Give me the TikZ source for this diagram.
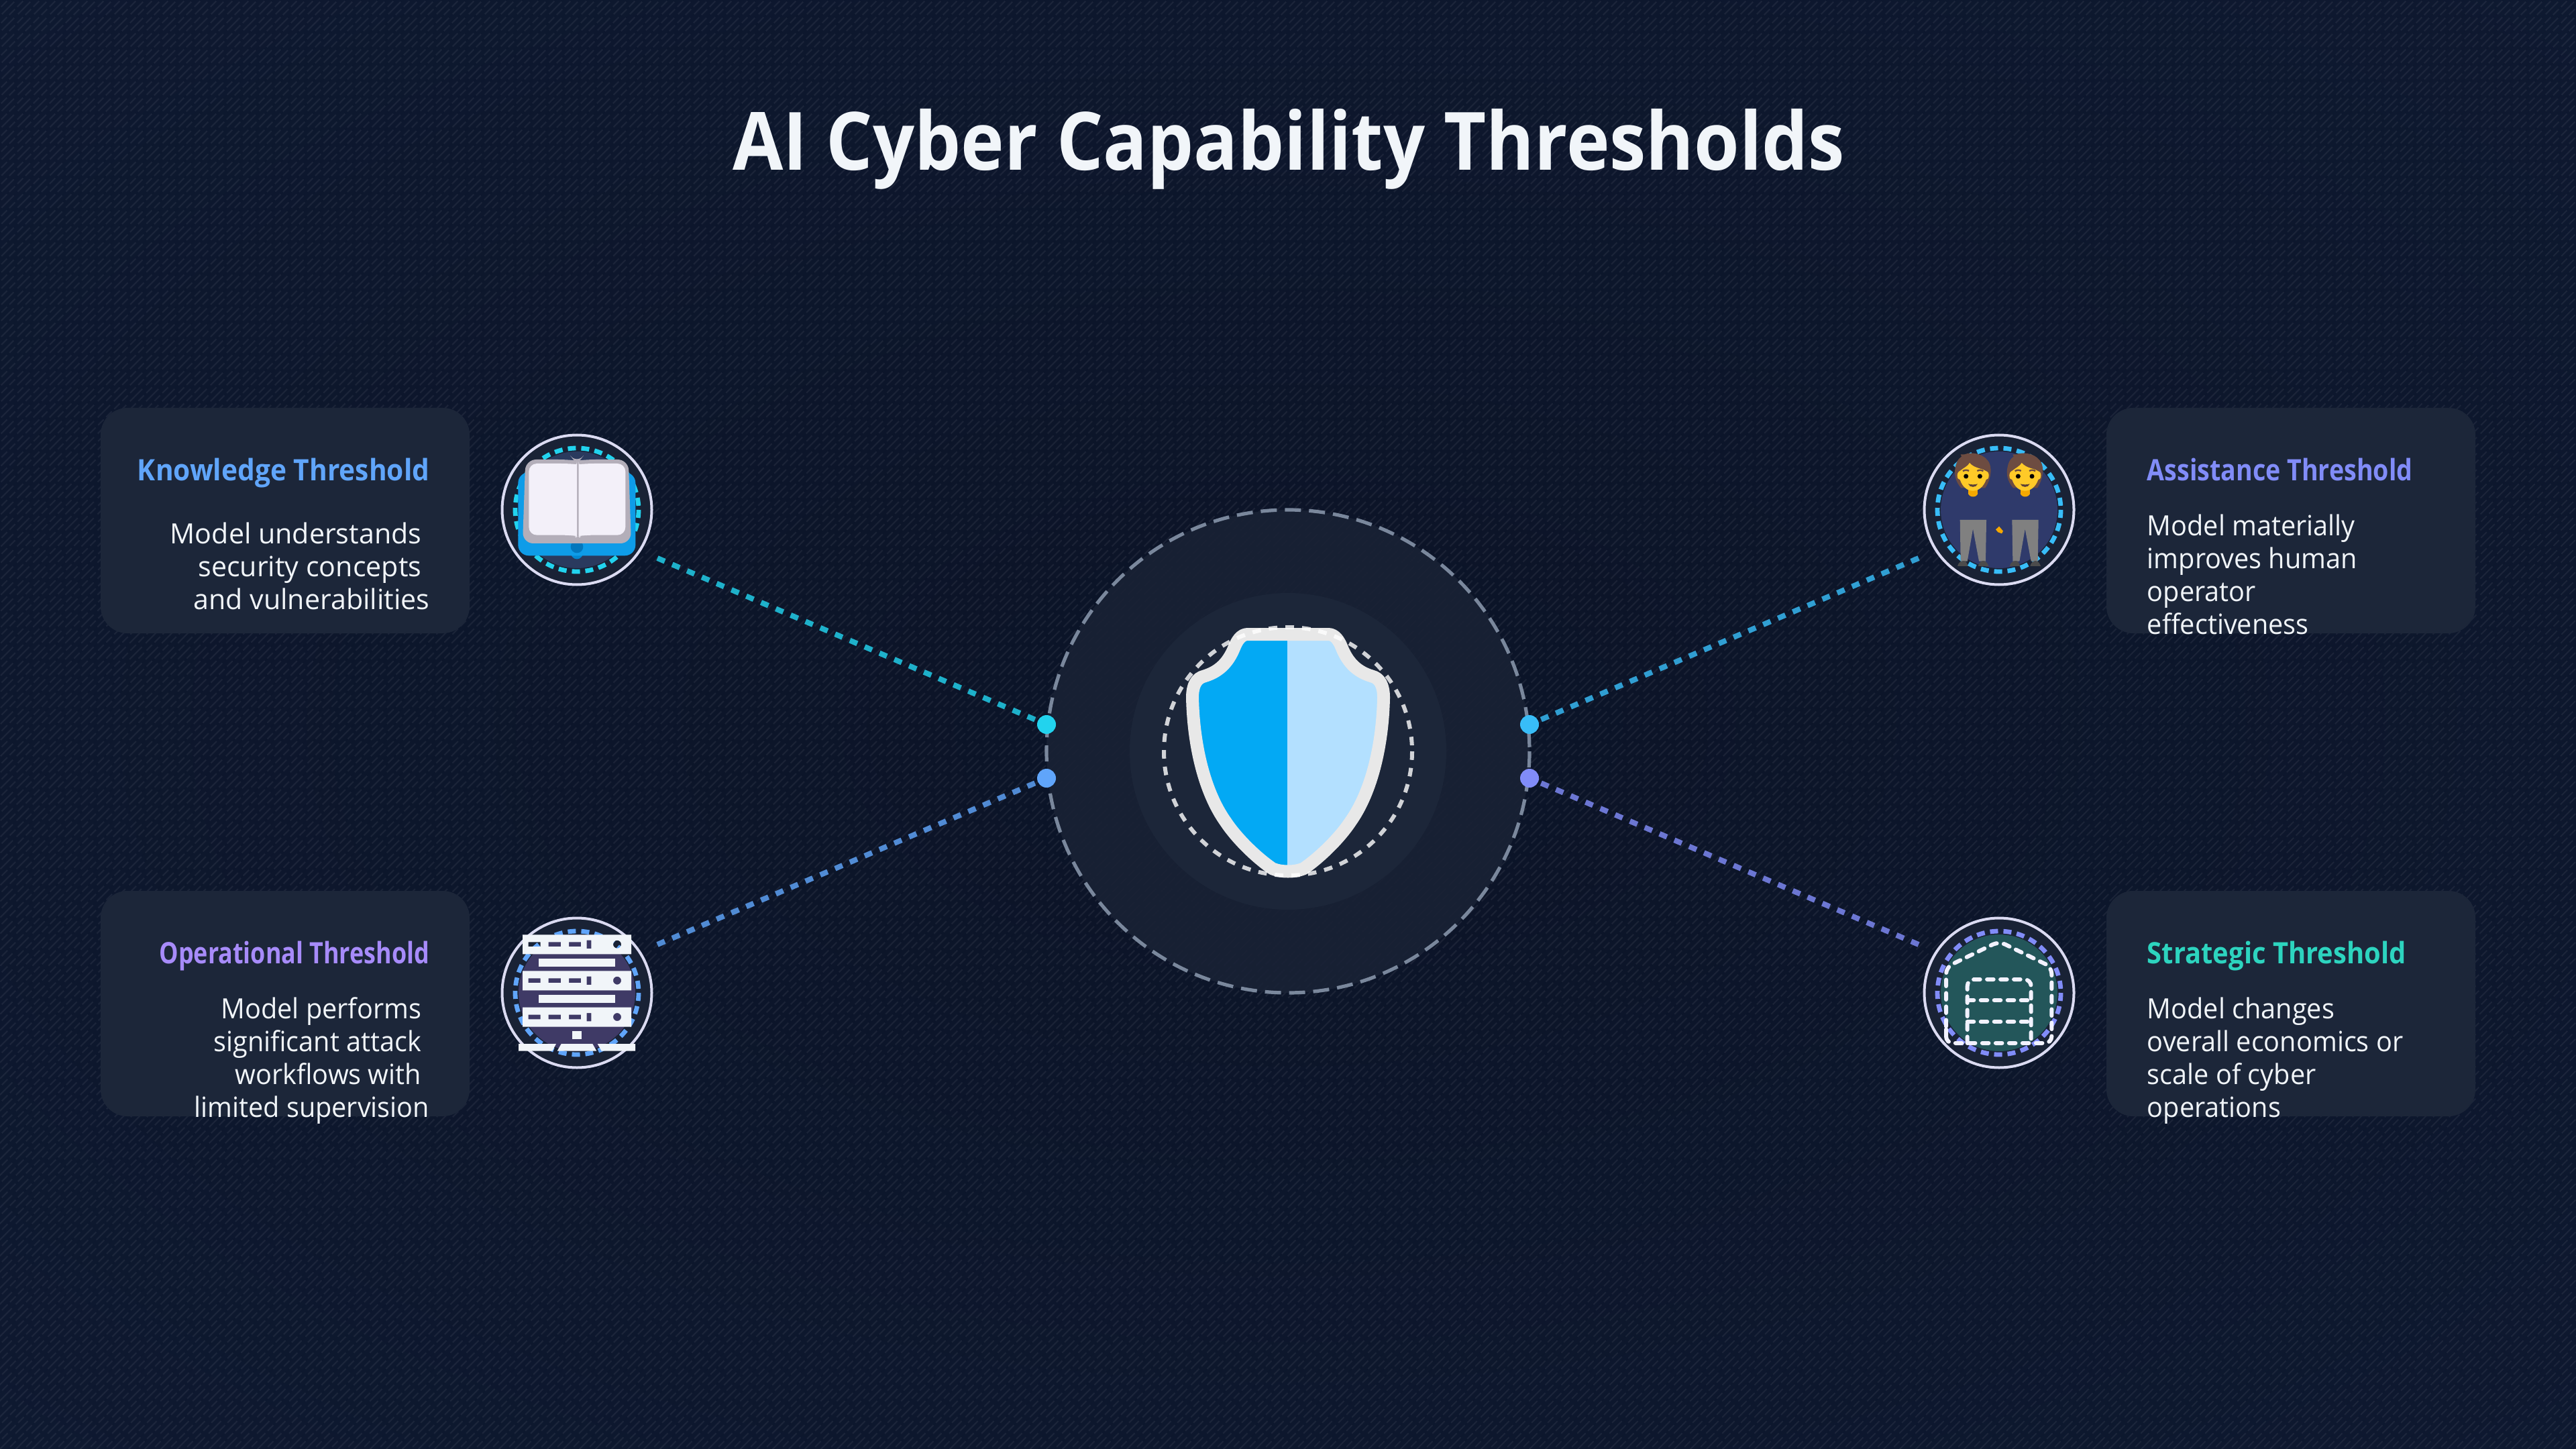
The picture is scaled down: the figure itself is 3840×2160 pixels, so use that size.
\documentclass[tikz,border=0pt]{standalone}
\usepackage{fontspec}
\setmainfont{Open Sans}
\newfontfamily\fontMain[FakeStretch=0.91]{Open Sans}
\newfontfamily\fontKt[FakeStretch=0.925]{Open Sans}
\newfontfamily\fontOt[FakeStretch=0.816]{Open Sans}
\newfontfamily\fontAt[FakeStretch=0.855]{Open Sans}
\newfontfamily\fontSt[FakeStretch=0.907]{Open Sans}
\newfontfamily\fontKd[FakeStretch=0.99]{Open Sans}
\newfontfamily\fontNd[FakeStretch=0.953]{Open Sans}
\usetikzlibrary{calc}
\definecolor{cardfill}{HTML}{1C2639}
\definecolor{ringfill}{HTML}{192235}
\definecolor{corefill}{HTML}{1C2639}
\definecolor{cCyan}{HTML}{22D3EE}
\definecolor{cSky}{HTML}{38BDF8}
\definecolor{cBlue}{HTML}{60A5FA}
\definecolor{cIndigo}{HTML}{818CF8}
\definecolor{cViolet}{HTML}{A78BFA}
\definecolor{cTeal}{HTML}{2DD4BF}
\definecolor{descwhite}{HTML}{F1F5F9}
\definecolor{barwhite}{HTML}{F1F5F9}
\definecolor{hair}{HTML}{6D4C41}
\definecolor{skin}{HTML}{FFCA28}
\definecolor{neck}{HTML}{F5A800}
\definecolor{slate}{HTML}{94A3B8}
\pgfdeclareradialshading{bgshade}{\pgfpointorigin}{
  rgb(0bp)=(0.043,0.075,0.15);
  rgb(37bp)=(0.055,0.098,0.19);
  rgb(71bp)=(0.09,0.145,0.24)}
\tikzset{
  card/.style={fill=cardfill,rounded corners=10pt},
  cardtitle/.style={inner sep=0pt},
  carddesc/.style={text=descwhite,inner sep=0pt},
  link/.style={line width=2pt,dash pattern=on 3pt off 3pt,draw opacity=.82},
  iconring/.style={circle,minimum size=55.75pt,inner sep=0pt,draw=white!90!blue!90!gray,line width=1pt,fill=ringfill},
  icondash/.style={line width=1.7pt,dash pattern=on 3pt off 2pt},
  dotn/.style={circle,inner sep=0pt,minimum size=7pt},
  house/.style={draw=white!95!blue,line width=1.5pt,line cap=round,dash pattern=on 2.4pt off 2.6pt,rounded corners=2.5pt}
}
\newcommand{\titlesize}{\fontsize{11}{13}\selectfont\bfseries}
\newcommand{\descsize}{\fontsize{10.4}{12.2}\selectfont}
\newcommand{\personfig}{%
  \fill[hair] (222,250) .. controls (225,205) and (240,190) .. (252,182) -- (248,172) -- (265,172) .. controls (300,158) and (360,170) .. (378,215) .. controls (388,245) and (382,285) .. (358,322) -- (250,322) .. controls (230,300) and (222,275) .. (222,250) -- cycle;
  \fill[neck] (282,325) rectangle (325,350);
  \fill[neck] (282,345) .. controls (285,367) and (322,367) .. (325,345) -- cycle;
  \fill[skin] (233,265) .. controls (236,245) and (243,250) .. (246,245) .. controls (262,232) and (280,225) .. (288,210) .. controls (310,235) and (345,235) .. (358,245) .. controls (362,250) and (372,245) .. (374,265) .. controls (374,280) and (368,285) .. (362,285) .. controls (350,318) and (328,335) .. (303,335) .. controls (278,335) and (256,318) .. (245,285) .. controls (238,285) and (233,280) .. (233,265) -- cycle;
  \fill[black] (272,270) circle (10.5);
  \fill[black] (334,270) circle (10.5);
  \draw[hair,line width=.6pt] (258,247) .. controls (265,241) and (278,241) .. (285,246);
  \draw[hair,line width=.6pt] (322,246) .. controls (330,241) and (342,241) .. (349,247);
  \fill[hair!85!black] (282,304) .. controls (295,308) and (312,308) .. (324,304) .. controls (318,322) and (288,322) .. (282,304) -- cycle;
  \fill[fill=gray] (245,465) -- (363,465) -- (360,650) -- (330,650) -- (303,505) -- (278,650) -- (248,650) -- cycle;
  \fill[black!70] (234,672) .. controls (238,655) and (250,648) .. (262,648) .. controls (272,648) and (278,660) .. (280,672) -- cycle;
  \fill[black!70] (326,672) .. controls (330,655) and (340,648) .. (350,648) .. controls (360,648) and (370,660) .. (373,672) -- cycle;
}
\begin{document}
\begin{tikzpicture}[x=0.25pt,y=-0.25pt]
\useasboundingbox (0,0) rectangle (3840,2160);
\shade[shading=bgshade] (0,0) rectangle (3840,2160);
\begin{scope}
  \clip (0,0) rectangle (3840,2160);
  \draw[white,draw opacity=.06,line width=.55pt,dash pattern=on 6.5pt off 2pt,dash phase=7.5pt]
    \foreach \k in {0,1,...,252}{ (24*\k,0) -- (24*\k-2400,2400) };
  \draw[white,draw opacity=.06,line width=.55pt,dash pattern=on 3pt off 1.24pt,dash phase=3.62pt]
    \foreach \k in {0,1,...,252}{ (24*\k+12,0) -- (24*\k-2388,2400) };
\end{scope}

% title
\node[font=\fontsize{30}{36}\fontMain\bfseries,text=descwhite,anchor=base,inner sep=0pt] (title) at (1921,254) {AI Cyber Capability Thresholds};

% connector ends
\coordinate (kstart) at (980,832);
\coordinate (ostart) at (980,1408);
\coordinate (astart) at (2860,832);
\coordinate (sstart) at (2860,1408);
\coordinate (kend) at (1560,1080);
\coordinate (oend) at (1560,1160);
\coordinate (aend) at (2280,1080);
\coordinate (send) at (2280,1160);

\draw[link,draw=cCyan] (kstart) -- (kend);
\draw[link,draw=cBlue] (ostart) -- (oend);
\draw[link,draw=cSky] (astart) -- (aend);
\draw[link,draw=cIndigo] (sstart) -- (send);

% centre rings
\fill[ringfill,fill opacity=.9] (1920,1120) circle (360);
\draw[draw=slate,line width=1.3pt,dash pattern=on 6pt off 3pt,draw opacity=.8] (1920,1120) circle (360);
\fill[corefill] (1920,1120) circle (236);

% shield
\begin{scope}[shift={(1920,0)}]
  \def\shieldp{(0,945.5) -- (60,945.5) .. controls (70,945.5) and (76,955) .. (80,965) .. controls (90,990) and (105,1002) .. (125,1008) .. controls (137,1011) and (142.5,1022) .. (142.5,1040) .. controls (141,1110) and (125,1180) .. (93,1225) .. controls (75,1252) and (45,1280) .. (23,1295) .. controls (15,1298) and (8,1299) .. (0,1299) .. controls (-8,1299) and (-15,1298) .. (-23,1295) .. controls (-45,1280) and (-75,1252) .. (-93,1225) .. controls (-125,1180) and (-141,1110) .. (-142.5,1040) .. controls (-142.5,1022) and (-137,1011) .. (-125,1008) .. controls (-105,1002) and (-90,990) .. (-80,965) .. controls (-76,955) and (-70,945.5) .. (-60,945.5) -- cycle}
  \begin{scope}
    \clip \shieldp;
    \fill[fill={rgb,255:red,3;green,169;blue,244}] (-160,930) rectangle (-1,1310);
    \fill[fill={rgb,255:red,179;green,224;blue,255}] (-1,930) rectangle (160,1310);
  \end{scope}
  \draw[draw={rgb,255:red,232;green,232;blue,232},line width=4.75pt,line join=round] \shieldp;
\end{scope}
\draw[white,draw opacity=.8,line width=1.5pt,dash pattern=on 3.2pt off 3pt] (1920,1120) circle (185);

% dots
\node[dotn,fill=cCyan] (kdot) at (kend) {};
\node[dotn,fill=cBlue] (odot) at (oend) {};
\node[dotn,fill=cSky] (adot) at (aend) {};
\node[dotn,fill=cIndigo] (sdot) at (send) {};

% cards
\fill[card] (150,608) rectangle (700,944);
\fill[card] (150,1328) rectangle (700,1664);
\fill[card] (3140,608) rectangle (3690,944);
\fill[card] (3140,1328) rectangle (3690,1664);

\node[cardtitle,font=\fontKt\titlesize,text=cBlue,anchor=base east] (ktitle) at (641,716) {Knowledge Threshold};
\node[carddesc,font=\fontKd\descsize,align=right,anchor=base east] (kdesc) at (641,908) {Model understands\kern3pt\\security concepts\kern3pt\\and vulnerabilities};
\node[cardtitle,font=\fontOt\titlesize,text=cViolet,anchor=base east] (otitle) at (641,1436) {Operational Threshold};
\node[carddesc,font=\fontNd\descsize,align=right,anchor=base east] (odesc) at (641,1665) {Model performs\kern3pt\\significant attack\kern3pt\\workflows with\kern3pt\\limited supervision};
\node[cardtitle,font=\fontAt\titlesize,text=cIndigo,anchor=base west] (atitle) at (3200,716) {Assistance Threshold};
\node[carddesc,font=\fontNd\descsize,align=left,anchor=base west] (adesc) at (3200,945) {Model materially\\improves human\\operator\\effectiveness};
\node[cardtitle,font=\fontSt\titlesize,text=cTeal,anchor=base west] (stitle) at (3200,1436) {Strategic Threshold};
\node[carddesc,font=\fontNd\descsize,align=left,anchor=base west] (sdesc) at (3200,1665) {Model changes\\overall economics or\\scale of cyber\\operations};

% icon: book
\node[iconring] (kicon) at (860,760) {};
\fill[fill={rgb,255:red,42;green,58;blue,94}] (kicon.center) circle (87);
\draw[icondash,cCyan] (kicon.center) circle (92);
\begin{scope}[shift={(720,620)},scale=1/3]
  \fill[fill={rgb,255:red,2;green,136;blue,209}] (390,600) .. controls (390,655) and (450,655) .. (450,600) -- cycle;
  \fill[fill={rgb,255:red,14;green,156;blue,232},rounded corners=4pt] (157,252) -- (682,252) -- (682,625) -- (157,625) -- cycle;
  \fill[fill={rgb,255:red,2;green,119;blue,189}] (420,585) circle (28);
  \fill[fill={rgb,255:red,179;green,174;blue,185},rounded corners=4pt] (190,195) -- (385,195) .. controls (400,197) and (412,205) .. (420,215) .. controls (428,205) and (440,197) .. (455,195) -- (650,195) -- (663,570) -- (177,570) -- cycle;
  \fill[fill={rgb,255:red,243;green,240;blue,249},rounded corners=3pt] (205,213) -- (385,213) .. controls (405,215) and (420,225) .. (420,240) -- (420,565) .. controls (415,550) and (405,535) .. (390,533) -- (205,533) -- cycle;
  \fill[fill={rgb,255:red,243;green,240;blue,249},rounded corners=3pt] (637,213) -- (463,213) .. controls (443,215) and (428,225) .. (428,240) -- (428,565) .. controls (433,550) and (443,535) .. (458,533) -- (637,533) -- cycle;
\end{scope}

% icon: people
\node[iconring] (aicon) at (2980,760) {};
\fill[fill={rgb,255:red,47;green,58;blue,107}] (aicon.center) circle (87);
\draw[icondash,cSky] (aicon.center) circle (92);
\begin{scope}[shift={(2840,620)},scale=1/3]
  \personfig
  \begin{scope}[shift={(233,0)}]\personfig\end{scope}
  \fill[neck] (405,508) -- (420,494) -- (438,515) -- (432,526) -- (415,520) -- cycle;
\end{scope}

% icon: server
\node[iconring] (oicon) at (860,1480) {};
\fill[fill={rgb,255:red,63;green,58;blue,102}] (oicon.center) circle (87);
\draw[icondash,cBlue] (oicon.center) circle (92);
\begin{scope}[shift={(720,1340)},scale=1/3]
  \foreach \yy in {160,322,485}{
    \fill[barwhite,even odd rule] (177,\yy) rectangle (663,\yy+87)
      (203,\yy+33) rectangle (257,\yy+53) (293,\yy+33) rectangle (348,\yy+53) (384,\yy+33) rectangle (438,\yy+53)
      (464,\yy+25) rectangle (484,\yy+62) (600,\yy+43) circle (18);
  }
  \fill[barwhite] (248,268) rectangle (590,302);
  \fill[barwhite] (248,430) rectangle (590,464);
  \fill[barwhite] (398,592) rectangle (442,627);
  \fill[barwhite] (159,648) -- (327,648) -- (310,680) -- (159,680) -- cycle;
  \fill[barwhite] (350,648) -- (490,648) -- (508,680) -- (332,680) -- cycle;
  \fill[barwhite] (512,648) -- (681,648) -- (681,680) -- (530,680) -- cycle;
\end{scope}

% icon: warehouse
\node[iconring] (sicon) at (2980,1480) {};
\fill[fill={rgb,255:red,35;green,86;blue,90}] (sicon.center) circle (87);
\draw[icondash,cIndigo] (sicon.center) circle (92);
\begin{scope}[shift={(2840,1340)},scale=1/3]
  \draw[house] (183,600) -- (183,305) -- (420,190) -- (655,305) -- (655,645) -- (183,645) -- cycle;
  \draw[house] (278,645) -- (278,360) -- (563,360) -- (563,645);
  \draw[house,rounded corners=0pt] (278,453) -- (563,453);
  \draw[house,rounded corners=0pt] (278,549) -- (563,549);
\end{scope}
\end{tikzpicture}
\end{document}
